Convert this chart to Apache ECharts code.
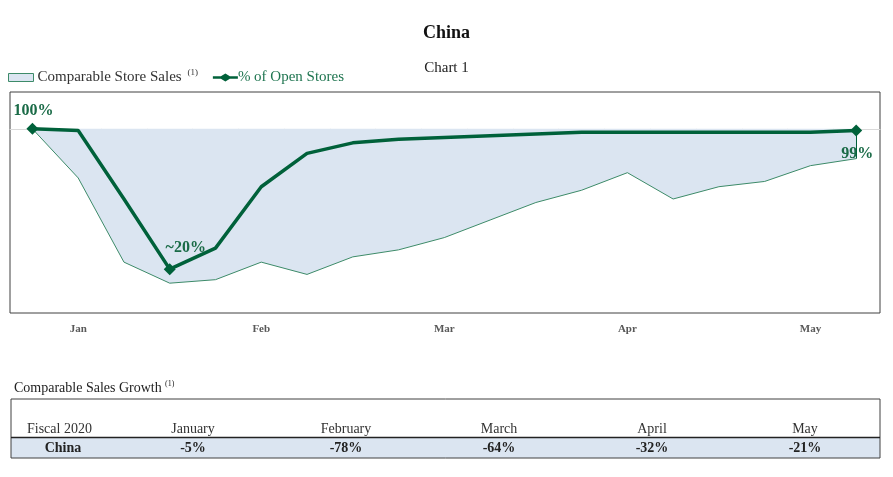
<!DOCTYPE html>
<html>
<head>
<meta charset="utf-8">
<script src="https://cdn.jsdelivr.net/npm/echarts@6/dist/echarts.min.js"></script>
<style>
html,body{margin:0;padding:0;background:#fff;}
#chart{width:893px;height:477px;}
</style>
</head>
<body>
<div id="chart"></div>
<script>
// ---- data ----
var salesGrowth = [0, -28, -76, -88, -86, -76, -83, -73, -69, -62, -52, -42, -35, -25, -40, -33, -30, -21, -17];
var openStores  = [100, 99, 60, 20, 32, 67, 86, 92, 94, 95, 96, 97, 98, 98, 98, 98, 98, 98, 99];
var monthLabels = ['Jan', 'Feb', 'Mar', 'Apr', 'May'];
var monthLabelWeeks = [1, 5, 9, 13, 17];
var calloutIdx  = [0, 3, 18];
var calloutText = ['100%', '~20%', '99%'];
var tableMonths = ['January', 'February', 'March', 'April', 'May'];
var tableValues = [-5, -78, -64, -32, -21];
var tableRowLabel = 'China';
var tableHeadLabel = 'Fiscal 2020';

// ---- build ----
var SERIF = '"Liberation Serif", "Times New Roman", serif';
var darkGreen = '#00613a';
var areaLine = '#3d8b69';
var areaFill = '#dbe5f1';
var last = salesGrowth.length - 1;

var salesData = salesGrowth.map(function (v, i) { return [i, v]; });
var calloutPos = ['top', 'top', 'bottom'];
var calloutOff = [[1, 1], [16, -2], [1, 4]];
var openData = openStores.map(function (v, i) {
  var k = calloutIdx.indexOf(i);
  if (k < 0) return { value: [i, v], symbol: 'none' };
  return {
    value: [i, v],
    symbol: 'diamond',
    label: {
      show: true,
      position: calloutPos[k],
      offset: calloutOff[k],
      formatter: calloutText[k],
      fontFamily: SERIF, fontWeight: 'bold', fontSize: 16, color: '#1a6b47'
    }
  };
});
var tickVals = [];
for (var t = 0; t < last; t++) tickVals.push(t + 0.5);

var graphics = [];
var colX0 = 193, colStep = 153;
graphics.push({ type: 'rect', shape: { x: 11, y: 437.5, width: 869, height: 20.5 }, style: { fill: areaFill }, z: 1 });
graphics.push({ type: 'rect', shape: { x: 11, y: 399, width: 869, height: 59 }, style: { fill: 'none', stroke: '#404040', lineWidth: 1 }, z: 2 });
graphics.push({ type: 'line', shape: { x1: 11, y1: 437.5, x2: 880, y2: 437.5 }, style: { stroke: '#222', lineWidth: 1.3 }, z: 2 });
graphics.push({ type: 'text', x: 14, y: 388, z: 3, style: {
  text: '{a|Comparable Sales Growth} {s|(1)}',
  textVerticalAlign: 'middle',
  rich: { a: { fontFamily: SERIF, fontSize: 14, fill: '#222' }, s: { fontFamily: SERIF, fontSize: 8, fill: '#222', padding: [0, 0, 9, 0] } }
}});
graphics.push({ type: 'text', x: 27, y: 429, z: 3, style: { text: tableHeadLabel, font: '14px ' + SERIF, fill: '#333', textVerticalAlign: 'middle' } });
graphics.push({ type: 'text', x: 63, y: 448, z: 3, style: { text: tableRowLabel, font: 'bold 14px ' + SERIF, fill: '#222', textAlign: 'center', textVerticalAlign: 'middle' } });
tableMonths.forEach(function (m, i) {
  graphics.push({ type: 'text', x: colX0 + colStep * i, y: 429, z: 3, style: { text: m, font: '14px ' + SERIF, fill: '#333', textAlign: 'center', textVerticalAlign: 'middle' } });
  graphics.push({ type: 'text', x: colX0 + colStep * i, y: 448, z: 3, style: { text: tableValues[i] + '%', font: 'bold 14px ' + SERIF, fill: '#222', textAlign: 'center', textVerticalAlign: 'middle' } });
});

var lineDiamondIcon = 'path://M0,2.7 L8,2.7 L12.5,0 L17,2.7 L25,2.7 L25,5.3 L17,5.3 L12.5,8 L8,5.3 L0,5.3 Z';

var chart = echarts.init(document.getElementById('chart'), null, { renderer: 'canvas' });
chart.setOption({
  animation: false,
  backgroundColor: '#fff',
  title: [
    { text: 'China', left: 'center', top: 19, textStyle: { fontFamily: SERIF, fontSize: 18, fontWeight: 'bold', color: '#111' } },
    { text: 'Chart 1', left: 'center', top: 56, textStyle: { fontFamily: SERIF, fontSize: 15, fontWeight: 'normal', color: '#222' } }
  ],
  legend: {
    left: 8, top: 68, padding: 0, itemWidth: 25, itemHeight: 8, itemGap: 15, symbolKeepAspect: false,
    textStyle: { fontFamily: SERIF, fontSize: 15, padding: [0, 0, 0, -1] },
    data: [
      { name: 'Comparable Store Sales', icon: 'rect', itemStyle: { color: areaFill, borderColor: areaLine, borderWidth: 1 },
        textStyle: { color: '#333', rich: { s: { fontSize: 9, color: '#333', fontFamily: SERIF, padding: [0, 0, 10, 2] } } } },
      { name: '% of Open Stores', icon: lineDiamondIcon, itemStyle: { color: darkGreen, borderWidth: 0 },
        textStyle: { color: '#1f7550', padding: [0, 0, 0, -5] } }
    ],
    formatter: function (n) { return n === 'Comparable Store Sales' ? n + ' {s|(1)}' : n; }
  },
  grid: { left: 10, right: 13, top: 92, bottom: 164, show: true, borderColor: '#404040', borderWidth: 1, backgroundColor: 'transparent' },
  xAxis: [
    { type: 'value', min: -0.49, max: 18.52, position: 'bottom',
      axisLine: { show: false, onZero: false }, axisTick: { show: false }, splitLine: { show: false },
      axisLabel: { customValues: monthLabelWeeks, margin: 11, fontFamily: SERIF, fontWeight: 'bold', fontSize: 11, color: '#595959',
        formatter: function (v) { var k = monthLabelWeeks.indexOf(Math.round(v)); return k >= 0 ? monthLabels[k] : ''; } } },
    { type: 'value', min: -0.49, max: 18.52, position: 'bottom',
      axisLine: { show: true, onZero: true, onZeroAxisIndex: 0, lineStyle: { color: '#d9d9d9', width: 1.2 } },
      axisTick: { show: true, customValues: tickVals, length: 3, inside: false, lineStyle: { color: '#d9d9d9' } },
      axisLabel: { show: false }, splitLine: { show: false } }
  ],
  yAxis: [
    { type: 'value', min: -105, max: 21, show: false, splitLine: { show: false } },
    { type: 'value', min: -5, max: 121, show: false, splitLine: { show: false } }
  ],
  series: [
    { name: 'Comparable Store Sales', type: 'line', xAxisIndex: 0, yAxisIndex: 0, data: salesData, symbol: 'none', z: 2,
      lineStyle: { color: areaLine, width: 1 }, itemStyle: { color: areaFill },
      areaStyle: { color: areaFill, opacity: 1 },
      markLine: { silent: true, symbol: 'none', label: { show: false },
        lineStyle: { color: darkGreen, width: 1, type: 'solid' },
        data: [[{ coord: [last, salesGrowth[last]] }, { coord: [last, 0] }]] } },
    { name: '% of Open Stores', type: 'line', xAxisIndex: 0, yAxisIndex: 1, data: openData, symbol: 'diamond', symbolSize: 12, z: 4,
      showAllSymbol: true,
      lineStyle: { color: darkGreen, width: 3.5 }, itemStyle: { color: darkGreen } }
  ],
  graphic: graphics
});
</script>
</body>
</html>
